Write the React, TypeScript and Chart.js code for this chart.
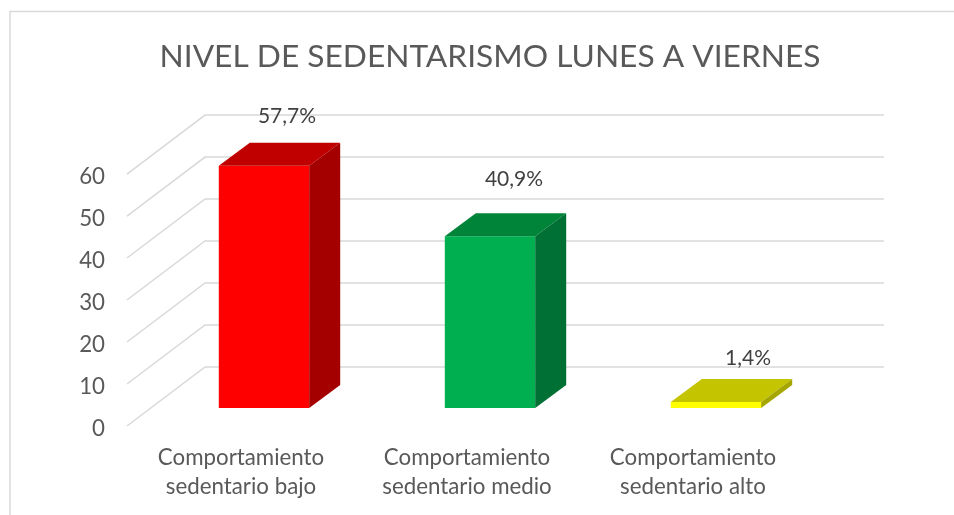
import React, { useEffect, useRef } from 'react';
import { Chart, registerables } from 'chart.js';

Chart.register(...registerables);

const TITLE = 'NIVEL DE SEDENTARISMO LUNES A VIERNES';
const categories = [
  ['Comportamiento', 'sedentario bajo'],
  ['Comportamiento', 'sedentario medio'],
  ['Comportamiento', 'sedentario alto'],
];
const values = [57.7, 40.9, 1.4];
const frontColors = ['#FF0000', '#00B050', '#FFFF00'];
const topColors = ['#C00000', '#008439', '#C4C400'];
const sideColors = ['#A50000', '#007034', '#A6A600'];
const labelShiftX = [23, 24, 32];
const labelShiftY = [49, 57.5, 44];

const FONT = 'Lato, "Open Sans", sans-serif';
const GRID = '#D9D9D9';
const TEXT = '#595959';
const DEPTH_X = 31;
const DEPTH_Y = 23;

const frame = {
  id: 'frame',
  beforeDraw(chart: any) {
    const { ctx, width, height } = chart;
    ctx.save();
    ctx.fillStyle = '#FFFFFF';
    ctx.fillRect(0, 0, width, height);
    ctx.strokeStyle = GRID;
    ctx.lineWidth = 1.5;
    ctx.beginPath();
    ctx.moveTo(10, height);
    ctx.lineTo(10, 11.5);
    ctx.lineTo(width, 11.5);
    ctx.stroke();
    ctx.restore();
  },
};

const walls = {
  id: 'walls',
  beforeDatasetsDraw(chart: any) {
    const { ctx, scales, chartArea } = chart;
    ctx.save();
    ctx.strokeStyle = GRID;
    ctx.lineWidth = 1.5;
    scales.y.ticks.forEach((t: any) => {
      const y = scales.y.getPixelForValue(t.value);
      ctx.beginPath();
      ctx.moveTo(chartArea.left - 24, y + 18);
      ctx.lineTo(chartArea.left + 54, y - 41);
      ctx.lineTo(chartArea.right + 55, y - 41);
      ctx.stroke();
    });
    ctx.restore();
  },
};

const bars3d = {
  id: 'bars3d',
  afterDatasetsDraw(chart: any) {
    const { ctx } = chart;
    const meta = chart.getDatasetMeta(0);
    ctx.save();
    meta.data.forEach((bar: any, i: number) => {
      const { x, y, base, width } = bar.getProps(['x', 'y', 'base', 'width'], true);
      const l = x - width / 2;
      const r = x + width / 2;
      ctx.fillStyle = topColors[i];
      ctx.beginPath();
      ctx.moveTo(l, y);
      ctx.lineTo(l + DEPTH_X, y - DEPTH_Y);
      ctx.lineTo(r + DEPTH_X, y - DEPTH_Y);
      ctx.lineTo(r, y);
      ctx.closePath();
      ctx.fill();
      ctx.fillStyle = sideColors[i];
      ctx.beginPath();
      ctx.moveTo(r, y);
      ctx.lineTo(r + DEPTH_X, y - DEPTH_Y);
      ctx.lineTo(r + DEPTH_X, base - DEPTH_Y);
      ctx.lineTo(r, base);
      ctx.closePath();
      ctx.fill();
    });
    ctx.fillStyle = '#404040';
    ctx.font = `21px ${FONT}`;
    ctx.textAlign = 'center';
    ctx.textBaseline = 'middle';
    meta.data.forEach((bar: any, i: number) => {
      const text = values[i].toFixed(1).replace('.', ',') + '%';
      ctx.fillText(text, bar.x + labelShiftX[i], bar.y - labelShiftY[i]);
    });
    ctx.restore();
  },
};

export default function App() {
  const ref = useRef<HTMLCanvasElement>(null);
  useEffect(() => {
    const chart = new Chart(ref.current!, {
      type: 'bar',
      data: {
        labels: categories,
        datasets: [
          {
            data: values,
            backgroundColor: frontColors,
            borderWidth: 0,
            barPercentage: 0.4,
            categoryPercentage: 1,
          },
        ],
      },
      options: {
        responsive: false,
        animation: false,
        layout: { autoPadding: false, padding: { left: 26, right: 125, top: 0, bottom: 0 } },
        plugins: {
          legend: { display: false },
          tooltip: { enabled: false },
          title: {
            display: true,
            fullSize: false,
            text: TITLE,
            color: TEXT,
            font: { family: FONT, size: 31.7, weight: 'normal' },
            padding: { top: 38, bottom: 80 },
          },
        },
        scales: {
          x: {
            afterFit: (s: any) => { s.height = 107; },
            grid: { display: false, drawTicks: false },
            border: { display: false },
            ticks: {
              color: TEXT,
              font: { family: FONT, size: 22.3, lineHeight: 1.3 },
              padding: 35,
              labelOffset: -23,
              maxRotation: 0,
              autoSkip: false,
            },
          },
          y: {
            min: 0,
            max: 60,
            afterFit: (s: any) => { s.width = 125; },
            grid: { display: false, drawTicks: false },
            border: { display: false },
            ticks: {
              stepSize: 10,
              color: TEXT,
              font: { family: FONT, size: 22.3 },
              padding: 46,
              labelOffset: 20.5,
            },
          },
        },
      },
      plugins: [frame, walls, bars3d],
    } as any);
    return () => chart.destroy();
  }, []);
  return (
    <div style={{ position: 'absolute', left: 0, top: 0, width: 954, height: 515, overflow: 'hidden' }}>
      <canvas ref={ref} width={954} height={515} style={{ display: 'block' }} />
    </div>
  );
}
